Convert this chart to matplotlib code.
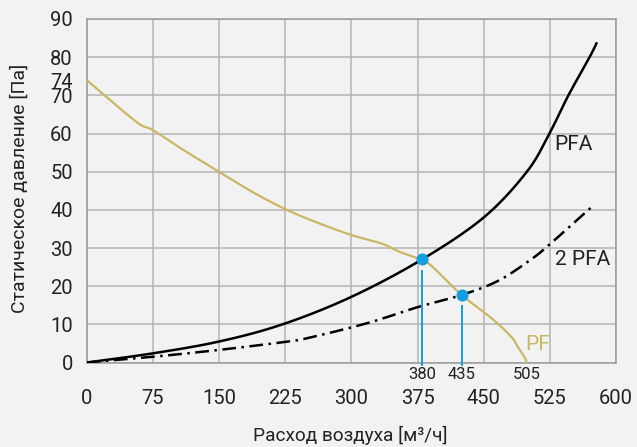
import numpy as np
import matplotlib
matplotlib.use('Agg')
import matplotlib.pyplot as plt

# PF fan curve (flow m3/h, static pressure Pa)
pf_x = [0, 56, 75, 109.5, 150, 187.7, 225, 258.6, 300, 334, 354.7, 380, 391.9, 425, 458.9, 481, 488.6, 496, 499]
pf_y = [74, 63.1, 60.9, 55.7, 50.0, 44.7, 40.2, 36.9, 33.4, 31.2, 29.0, 26.9, 25.1, 17.7, 11.6, 6.8, 4.1, 1.5, 0]

# PFA system curve
pfa_x = [0, 75, 150, 222, 300, 380, 450, 499, 524.5, 546, 570, 577.8]
pfa_y = [0, 2.4, 5.5, 10, 17.2, 27.0, 38, 50, 60, 70, 80, 83.6]

# 2 PFA system curve
pfa2_x = [0, 75, 150, 225, 248.6, 317.8, 375, 425, 466.4, 503, 524, 575]
pfa2_y = [0, 1.5, 3.3, 5.4, 6.3, 10.3, 14.5, 17.7, 21.4, 26.9, 30.8, 41.3]

# operating points and their labels
op_x = [380, 425]
op_y = [27.0, 17.7]
op_labels = ['380', '435']
pf_zero_x = 499
pf_zero_label = '505'

x_ticks = [0, 75, 150, 225, 300, 375, 450, 525, 600]
y_ticks = [0, 10, 20, 30, 40, 50, 60, 70, 80, 90]

bg = '#f2f2f2'
pf_color = '#c8b866'
blue = '#139fdf'
text_color = '#222222'


def smooth(xs, ys, n=12):
    # catmull-rom through the read points, just for a smooth stroke
    p = np.column_stack([xs, ys]).astype(float)
    p = np.vstack([2 * p[0] - p[1], p, 2 * p[-1] - p[-2]])
    out = []
    t = np.linspace(0, 1, n, endpoint=False)[:, None]
    for i in range(1, len(p) - 2):
        p0, p1, p2, p3 = p[i - 1], p[i], p[i + 1], p[i + 2]
        seg = 0.5 * ((2 * p1) + (-p0 + p2) * t + (2 * p0 - 5 * p1 + 4 * p2 - p3) * t ** 2
                     + (-p0 + 3 * p1 - 3 * p2 + p3) * t ** 3)
        out.append(seg)
    out.append(p[-2][None, :])
    out = np.vstack(out)
    return out[:, 0], out[:, 1]


plt.rcParams['font.family'] = ['Roboto', 'DejaVu Sans']

fig = plt.figure(figsize=(6.37, 4.47), dpi=100, facecolor=bg)
ax = fig.add_axes([0.1361, 0.189, 0.831, 0.7685], facecolor=bg)

ax.set_xlim(0, 600)
ax.set_ylim(0, 90)
ax.set_xticks(x_ticks)
ax.set_yticks(y_ticks)
ax.set_yticks([74], minor=True)
ax.set_yticklabels(['74'], minor=True)
ax.grid(True, which='major', color='#b4b4b4', linewidth=1.1)
ax.set_axisbelow(True)
for s in ax.spines.values():
    s.set_color('#9a9a9a')
    s.set_linewidth(1.1)
ax.tick_params(which='both', length=0, labelsize=14.5, colors=text_color)
ax.tick_params(axis='y', which='both', pad=10)
ax.tick_params(axis='x', pad=19)

ax.plot(*smooth(pf_x, pf_y), color=pf_color, linewidth=1.6, zorder=3)
ax.plot(*smooth(pfa_x, pfa_y), color='black', linewidth=1.8, zorder=4)
ax.plot(*smooth(pfa2_x, pfa2_y), color='black', linewidth=1.8, zorder=4,
        dashes=[5.5, 2.2, 1, 2.2])

# operating points
for x, y, lab in zip(op_x, op_y, op_labels):
    ax.plot([x, x], [y - 2.9, -0.7], color=blue, linewidth=1.4, zorder=5, clip_on=False)
    ax.plot(x, y, 'o', color=blue, markersize=7.7, zorder=6)
    ax.text(x, -3.2, lab, ha='center', va='center', fontsize=12, color=text_color)
ax.text(pf_zero_x, -3.2, pf_zero_label, ha='center', va='center', fontsize=12, color=text_color)

ax.text(530.5, 57.1, 'PFA', ha='left', va='center', fontsize=15, color=text_color)
ax.text(530.5, 27.1, '2 PFA', ha='left', va='center', fontsize=15, color=text_color)
ax.text(496.7, 4.6, 'PF', ha='left', va='center', fontsize=15, color=pf_color)

fig.text(350 / 637, 1 - 435 / 447, 'Расход воздуха [м³/ч]', ha='center', va='center',
         fontsize=13.7, color=text_color)
fig.text(20 / 637, 1 - 188 / 447, 'Статическое давление [Па]', ha='center', va='center',
         rotation=90, fontsize=14, color=text_color)

fig.savefig('out.png', dpi=100, facecolor=bg)
